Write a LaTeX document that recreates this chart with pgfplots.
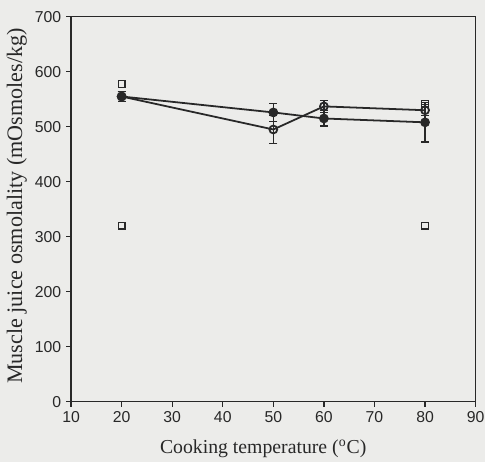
\documentclass[border=0pt]{standalone}
\usepackage{fontspec}
\setmainfont{Liberation Serif}
\setsansfont{Liberation Sans}
\usepackage{pgfplots}
\pgfplotsset{compat=1.18}
\definecolor{ink}{RGB}{40,40,40}
\definecolor{paper}{RGB}{236,236,234}
\begin{document}
\begin{tikzpicture}
\begin{axis}[
    axis on top,
    scale only axis,
    width=205pt, height=195pt,
    xmin=10, xmax=90, ymin=0, ymax=700,
    xtick={10,20,...,90},
    ytick={0,100,...,700},
    axis line style={ink, line width=0.6pt},
    tick style={ink, line width=0.6pt},
    tick align=outside,
    major tick length=2.5pt,
    xtick pos=bottom, ytick pos=left,
    /pgf/number format/assume math mode=true,
    tick label style={font=\sffamily\fontsize{8}{9}\selectfont, text=ink},
    xticklabel style={yshift=1pt},
    yticklabel style={xshift=1pt},
    label style={text=ink},
    xlabel={Cooking temperature (\textsuperscript{o}C)},
    ylabel={Muscle juice osmolality (mOsmoles/kg)},
    xlabel style={font=\fontsize{10}{12}\selectfont, at={(rel axis cs:0.475,-0.123)}, anchor=center},
    ylabel style={font=\fontsize{11.2}{13}\selectfont, at={(rel axis cs:-0.134,0.508)}, anchor=center},
    clip=false,
]
\path[fill=paper, use as bounding box] (rel axis cs:-0.1756,-0.1564) rectangle (rel axis cs:1.022,1.0436);
% filled circles
\addplot[ink, line width=0.9pt, mark=*, mark size=2pt,
    error bars/.cd, y dir=both, y explicit,
    error bar style={line width=0.7pt}, error mark options={rotate=90, mark size=2pt, line width=0.7pt}]
    coordinates {
    (20,555) +- (0,9)
    (50,526) +- (0,16)
    (60,515) +- (0,14)
    (80,508) +- (0,36)
};
% open circles
\addplot[ink, line width=0.9pt, mark=o, mark size=2pt, mark options={fill=paper},
    error bars/.cd, y dir=both, y explicit,
    error bar style={line width=0.7pt}, error mark options={rotate=90, mark size=2pt, line width=0.7pt}]
    coordinates {
    (20,555) +- (0,9)
    (50,495) +- (0,25)
    (60,537) +- (0,11)
    (80,530) +- (0,10)
};
% open squares (upper)
\addplot[ink, only marks, line width=0.7pt, mark=square, mark size=1.7pt, mark options={fill=paper}]
    coordinates {(20,578) (80,542)};
% open squares (lower)
\addplot[ink, only marks, line width=0.7pt, mark=square, mark size=1.7pt, mark options={fill=paper}]
    coordinates {(20,320) (80,320)};
\end{axis}
\end{tikzpicture}
\end{document}
